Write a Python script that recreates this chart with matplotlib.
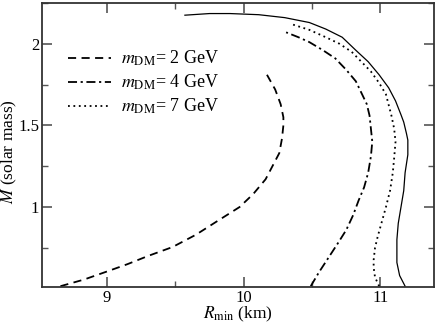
import numpy as np
import matplotlib
matplotlib.use('Agg')
import matplotlib.pyplot as plt
from matplotlib.ticker import MultipleLocator

plt.rcParams['font.family'] = ['Liberation Serif', 'DejaVu Serif']
plt.rcParams['mathtext.fontset'] = 'stix'

# M-R curves (R in km, M in solar masses)
r_solid = [11.18, 11.14, 11.12, 11.12, 11.13, 11.15, 11.17, 11.18, 11.20, 11.20,
           11.19, 11.17, 11.15, 11.11, 11.06, 10.99, 10.91, 10.82, 10.72, 10.60,
           10.48, 10.30, 10.11, 9.90, 9.75, 9.57]
m_solid = [0.515, 0.58, 0.66, 0.80, 0.90, 1.00, 1.10, 1.21, 1.32, 1.41,
           1.45, 1.52, 1.565, 1.65, 1.73, 1.81, 1.89, 1.96, 2.04, 2.09,
           2.13, 2.16, 2.178, 2.185, 2.185, 2.175]

r_7gev = [10.99, 10.96, 10.95, 10.95, 10.96, 10.98, 11.01, 11.04, 11.07, 11.09,
          11.10, 11.11, 11.10, 11.08, 11.04, 10.99, 10.93, 10.86, 10.79, 10.70,
          10.60, 10.48, 10.35]
m_7gev = [0.515, 0.57, 0.63, 0.675, 0.75, 0.82, 0.91, 1.00, 1.10, 1.21,
          1.30, 1.40, 1.48, 1.56, 1.69, 1.76, 1.83, 1.89, 1.95, 2.00,
          2.04, 2.085, 2.12]

r_4gev = [10.49, 10.55, 10.62, 10.69, 10.75, 10.80, 10.84, 10.88, 10.91, 10.93,
          10.94, 10.93, 10.92, 10.90, 10.86, 10.82, 10.75, 10.67, 10.58, 10.48,
          10.40, 10.31]
m_4gev = [0.515, 0.60, 0.69, 0.78, 0.86, 0.95, 1.04, 1.12, 1.21, 1.31,
          1.40, 1.48, 1.56, 1.63, 1.70, 1.77, 1.84, 1.91, 1.96, 2.01,
          2.04, 2.07]

r_2gev = [8.66, 8.83, 9.00, 9.15, 9.30, 9.48, 9.65, 9.80, 9.97, 10.07,
          10.16, 10.21, 10.26, 10.28, 10.29, 10.29, 10.27, 10.23, 10.17]
m_2gev = [0.515, 0.555, 0.605, 0.65, 0.70, 0.755, 0.83, 0.91, 1.00, 1.08,
          1.17, 1.25, 1.33, 1.42, 1.50, 1.55, 1.63, 1.72, 1.81]

fig = plt.figure(figsize=(4.36, 3.27), dpi=100)
ax = fig.add_axes([0.0963, 0.1223, 0.8987, 0.8687])

ax.plot(r_2gev, m_2gev, color='black', lw=1.3, ls=(0, (4.5, 3)),
        label=r'$m_{\rm DM}$= 2 GeV')
ax.plot(r_4gev, m_4gev, color='black', lw=1.3, ls=(0, (5, 2, 1.2, 2)),
        label=r'$m_{\rm DM}$= 4 GeV')
ax.plot(r_7gev, m_7gev, color='black', lw=1.3, ls=(0, (1, 2)),
        label=r'$m_{\rm DM}$= 7 GeV')
ax.plot(r_solid, m_solid, color='black', lw=0.9)

ax.set_xlim(8.525, 11.39)
ax.set_ylim(0.51, 2.25)
ax.xaxis.set_major_locator(MultipleLocator(1))
ax.xaxis.set_minor_locator(MultipleLocator(0.5))
ax.yaxis.set_minor_locator(MultipleLocator(0.25))
ax.set_yticks([1, 1.5, 2])
ax.set_yticklabels(['1', '1.5', '2'])
ax.tick_params(which='both', direction='in', top=True, right=True,
               color='#555555', labelsize=12, pad=2)
ax.tick_params(which='major', length=7, width=1.2)
ax.tick_params(which='minor', length=4, width=1.0)
for s in ax.spines.values():
    s.set_linewidth(1.3)
    s.set_color('#333333')

ax.set_xlabel(r'$R_{\rm min}$ (km)', fontsize=12.5, labelpad=-1)
ax.set_ylabel(r'$M$ (solar mass)', fontsize=12.5)
ax.yaxis.set_label_coords(-0.059, 0.475)

ax.legend(loc='upper left', bbox_to_anchor=(0.025, 0.895), frameon=False,
          fontsize=13, handlelength=2.4, handletextpad=0.55, labelspacing=0.25)

fig.savefig('out.png', dpi=100)
